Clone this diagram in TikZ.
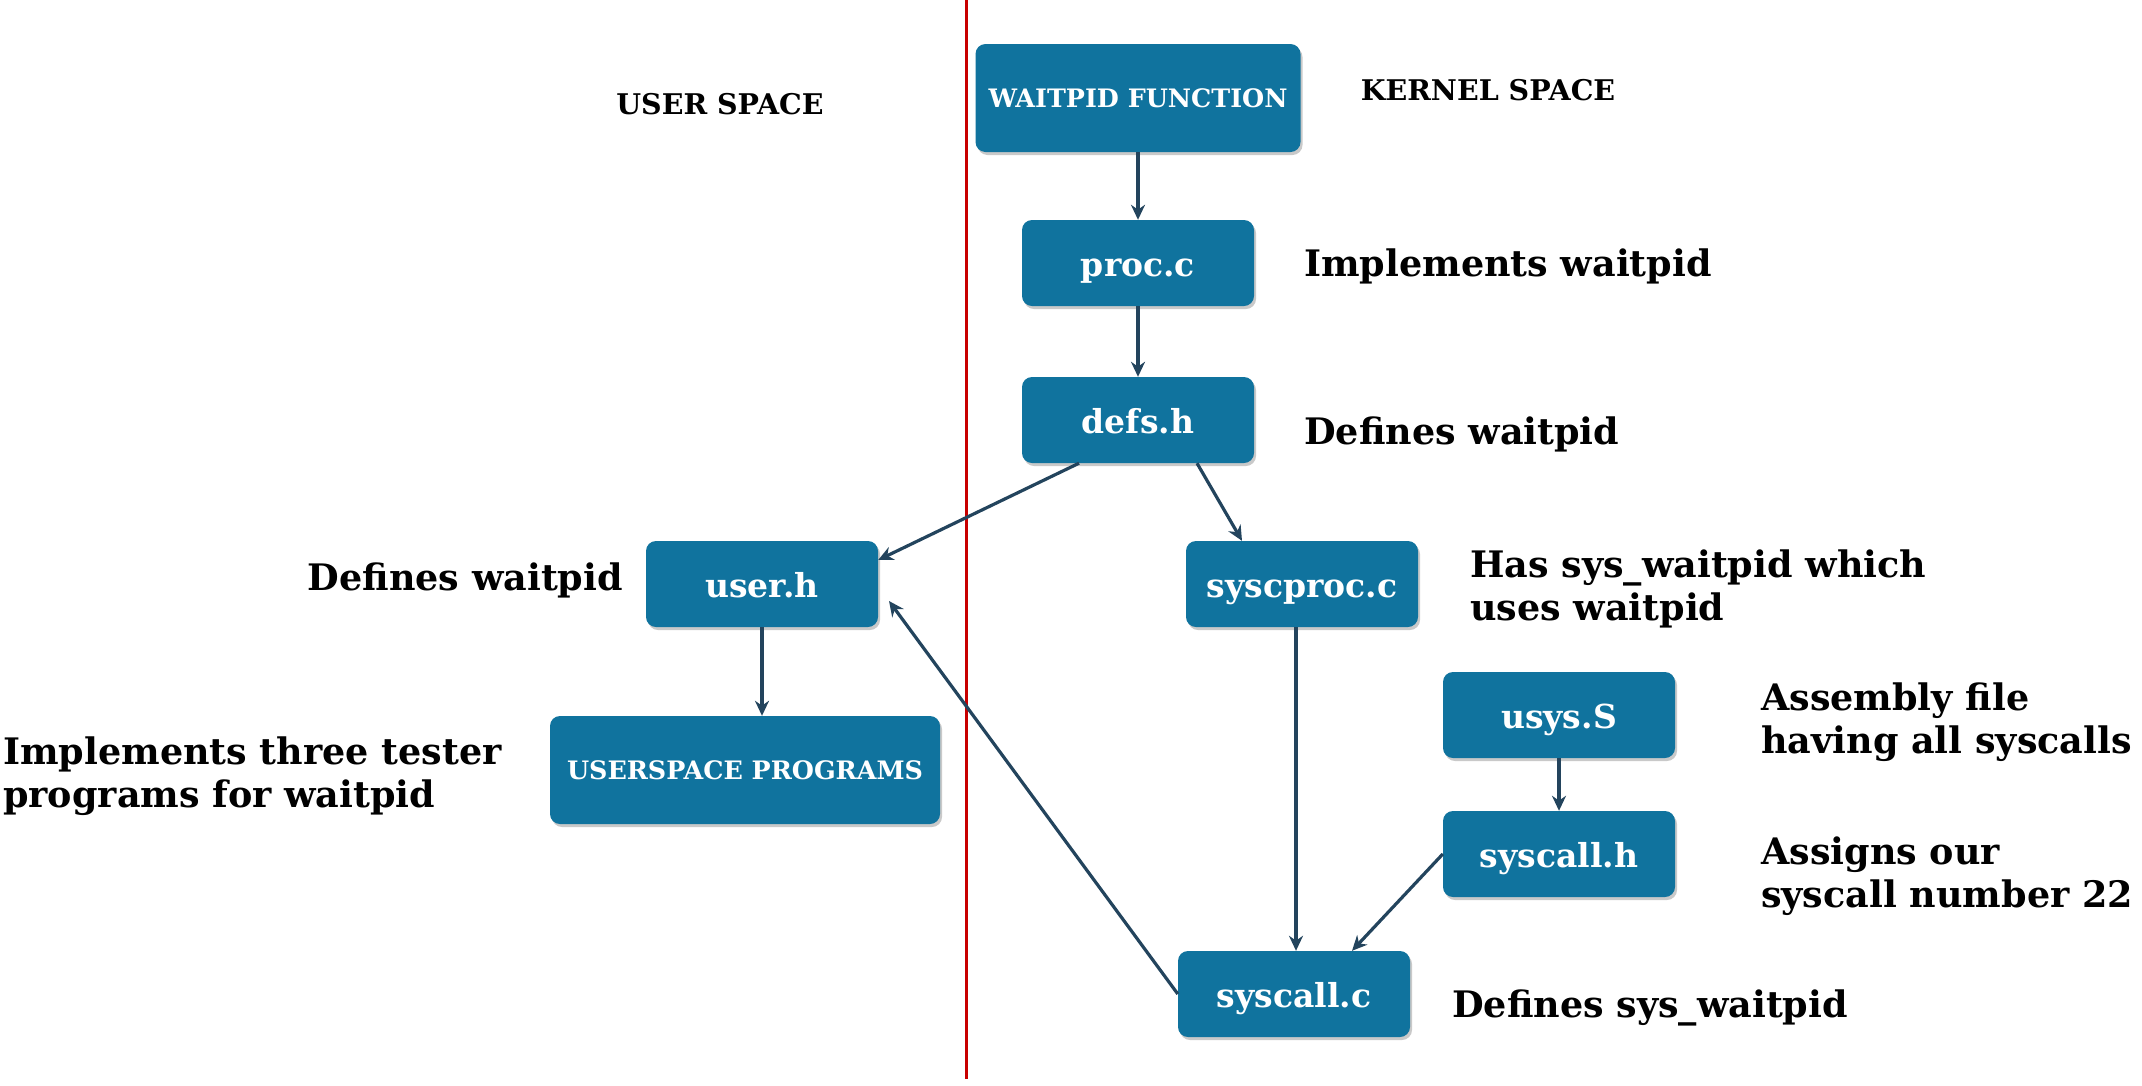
\documentclass[tikz,border=0pt]{standalone}
\usepackage{fontspec}
\setmainfont{DejaVu Serif}
\usetikzlibrary{arrows.meta,shadows}
\definecolor{boxblue}{HTML}{10739E}
\definecolor{arrowc}{HTML}{23445D}
\definecolor{redline}{HTML}{C80000}
\begin{document}
\begin{tikzpicture}[x=1pt,y=-1pt]
\tikzset{
  filebox/.style={rectangle, rounded corners=10pt, fill=boxblue, text=white,
    font=\bfseries\fontsize{33}{38}\selectfont, minimum width=232pt, minimum height=86pt,
    inner sep=0pt, text height=26pt, text depth=0pt,
    drop shadow={shadow xshift=2pt, shadow yshift=-3pt, opacity=0.35, fill=black!60}},
  capbox/.style={filebox, font=\bfseries\fontsize{25.4}{30}\selectfont, text height=19pt,
    minimum width=325pt, minimum height=108pt},
  note/.style={font=\bfseries\fontsize{36.5}{43}\selectfont, align=left, anchor=west, inner sep=0pt},
  title/.style={font=\bfseries\fontsize{28.5}{32}\selectfont, inner sep=0pt},
  arr/.style={draw=arrowc, line width=3.2pt, -{Stealth[length=15pt,width=14pt]}},
}
\useasboundingbox[fill=white] (0,0) rectangle (2142,1085);
\draw[redline, line width=3pt] (966,0) -- (966,1079);

\node[title] (us) at (720,104) {USER SPACE};
\node[title] (ks) at (1488,90) {KERNEL SPACE};

\node[capbox] (wf) at (1138,98) {WAITPID FUNCTION};
\node[filebox] (pc) at (1138,263) {proc.c};
\node[filebox] (dh) at (1138,420) {defs.h};
\node[filebox] (uh) at (762,584) {user.h};
\node[capbox, minimum width=390pt] (up) at (745,770) {USERSPACE PROGRAMS};
\node[filebox] (sp) at (1302,584) {syscproc.c};
\node[filebox] (us2) at (1559,715) {usys.S};
\node[filebox] (sh) at (1559,854) {syscall.h};
\node[filebox] (sc) at (1294,994) {syscall.c};

\node[note] (n1) at (1304,266) {Implements waitpid};
\node[note] (n2) at (1304,434) {Defines waitpid};
\node[note, anchor=east] (n3) at (623,580) {Defines waitpid};
\node[note] (n4) at (3,776) {Implements three tester\\programs for waitpid};
\node[note] (n5) at (1470,589) {Has sys\_waitpid which\\uses waitpid};
\node[note] (n6) at (1761,722) {Assembly file\\having all syscalls};
\node[note] (n7) at (1761,876) {Assigns our\\syscall number 22};
\node[note] (n8) at (1452,1008) {Defines sys\_waitpid};

\coordinate (uhin) at (889,601);

\draw[arr] (wf) -- (pc);
\draw[arr] (pc) -- (dh);
\draw[arr] ([xshift=-59pt]dh.south) -- ([yshift=24pt]uh.east);
\draw[arr] ([xshift=59pt]dh.south) -- ([xshift=-60pt]sp.north);
\draw[arr] (uh) -- (uh.south |- up.north);
\draw[arr] ([xshift=-6pt]sp.south) -- ([xshift=2pt]sc.north);
\draw[arr] (us2) -- (sh);
\draw[arr] (sh.west) -- ([xshift=58pt]sc.north);
\draw[arr] (sc.west) -- (uhin);
\end{tikzpicture}
\end{document}
